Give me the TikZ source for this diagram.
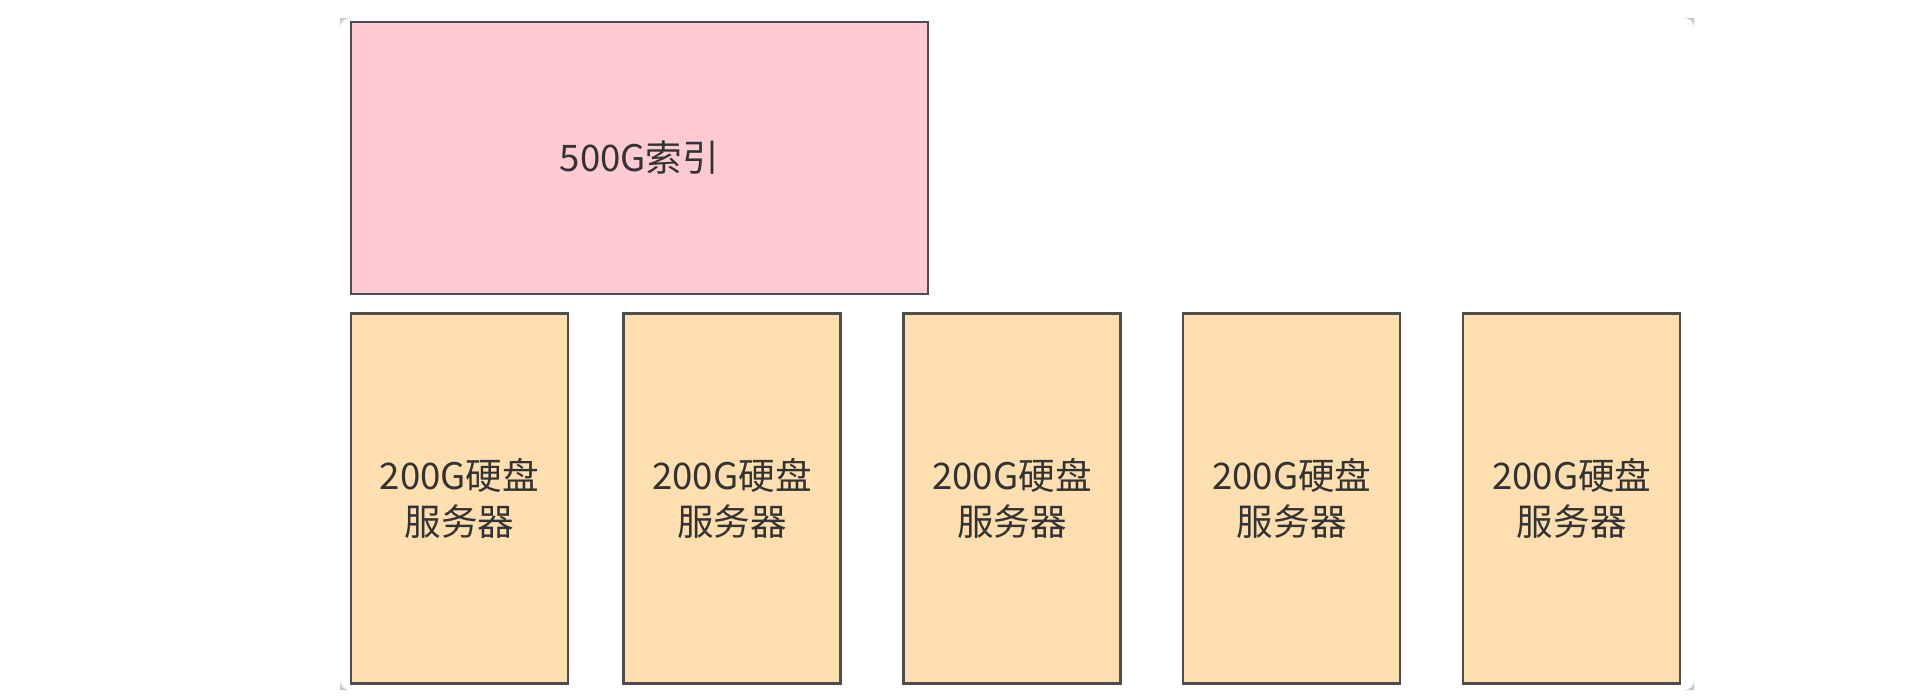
\documentclass[tikz,border=0pt]{standalone}
\usepackage{fontspec}
\setmainfont{Noto Sans CJK SC}
\definecolor{pinkfill}{HTML}{FFCBD2}
\definecolor{orangefill}{HTML}{FFDFB0}
\definecolor{edgegray}{HTML}{4D4D4D}
\definecolor{textgray}{HTML}{333333}
\definecolor{cornergray}{HTML}{C8C8C8}
\begin{document}
\begin{tikzpicture}[x=0.5pt,y=-0.5pt,
  box/.style={draw=edgegray,line width=1.1pt,rectangle,inner sep=0pt,
    text=textgray,font=\fontsize{18.3pt}{22.8pt}\selectfont,align=center},
  indexbox/.style={box,fill=pinkfill,minimum width=288.5pt,minimum height=136pt},
  serverbox/.style={box,fill=orangefill,minimum width=108.5pt,minimum height=185pt}]
\useasboundingbox (0,0) rectangle (1927,697);
% corner wedges of the frame
\fill[cornergray] (1684,18) -- (1694,18) -- (1694,28) .. controls (1694,22) and (1690,18) .. (1684,18);
\fill[cornergray] (350,18) -- (340,18) -- (340,28) .. controls (340,22) and (344,18) .. (350,18);
\fill[cornergray] (1684,690) -- (1694,690) -- (1694,680) .. controls (1694,686) and (1690,690) .. (1684,690);
\fill[cornergray] (350,690) -- (340,690) -- (340,680) .. controls (340,686) and (344,690) .. (350,690);
\node[indexbox] (idx) at (639.5,158) {500G索引};
\node[serverbox] (s1) at (459.5,498.5) {200G硬盘\\服务器};
\node[serverbox] (s2) at (732,498.5) {200G硬盘\\服务器};
\node[serverbox] (s3) at (1012,498.5) {200G硬盘\\服务器};
\node[serverbox] (s4) at (1291.75,498.5) {200G硬盘\\服务器};
\node[serverbox] (s5) at (1571.75,498.5) {200G硬盘\\服务器};
\end{tikzpicture}
\end{document}
